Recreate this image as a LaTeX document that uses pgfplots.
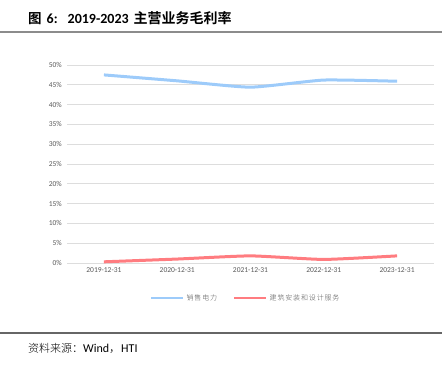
\documentclass[border=0pt]{standalone}
\usepackage{pgfplots}
\pgfplotsset{compat=1.18}
\usepackage{fontspec}
\setmainfont{Carlito}
\newfontfamily\cjk{Noto Sans CJK SC}
\newfontfamily\cjkb{Noto Sans CJK SC Bold}
\newfontfamily\cjkl[LetterSpace=12]{Noto Sans CJK SC Light}
\newfontfamily\cjkr{Noto Sans CJK SC Light}
\definecolor{blueline}{HTML}{9DCBFA}
\definecolor{redline}{HTML}{FF7C80}
\definecolor{gridc}{HTML}{DDDDDD}
\definecolor{tickc}{HTML}{595959}
\begin{document}
\begin{tikzpicture}
\path[use as bounding box] (0,0) rectangle (447bp,-366bp);
\node[anchor=west, inner sep=0pt] at (28bp,-18bp) {\fontsize{13.5bp}{15bp}\selectfont\cjkb 图\hspace{5bp}{\fontspec{Carlito}\fontsize{14bp}{15bp}\selectfont\bfseries 6:\hspace{10bp}2019-2023}\hspace{5bp}\fontsize{14bp}{15bp}\selectfont 主营业务毛利率};
\draw[line width=1.8bp, color=black!45] (0bp,-32bp) -- (442bp,-32bp);
\draw[line width=1.4bp, color=black!60] (0bp,-333bp) -- (442bp,-333bp);
\node[anchor=west, inner sep=0pt] at (28bp,-348bp) {\fontsize{11bp}{13bp}\selectfont\cjkr 资料来源：\fontspec{Carlito}\fontsize{12bp}{13bp}\selectfont Wind\cjkr，\fontspec{Carlito}HTI};
\begin{axis}[
  at={(67.3bp,-263bp)}, anchor=south west,
  scale only axis, width=366.4bp, height=198bp,
  xmin=-0.5, xmax=4.5, ymin=0, ymax=50,
  xtick={0,1,2,3,4},
  xticklabels={2019-12-31,2020-12-31,2021-12-31,2022-12-31,2023-12-31},
  ytick={0,5,...,50},
  yticklabel={\pgfmathprintnumber{\tick}\%},
  /pgf/number format/assume math mode=true,
  tick label style={font=\fontsize{7.5bp}{8bp}\selectfont, color=tickc},
  yticklabel style={xshift=-2bp},
  xticklabel style={yshift=-1bp},
  major tick length=0pt,
  axis line style={draw=none},
  ymajorgrids, grid style={gridc, line width=0.9bp},
  legend style={at={(0.487,-0.177)}, anchor=center, draw=none, fill=none,
    legend columns=2, font=\fontsize{7bp}{8bp}\selectfont\cjkl\color{tickc},
    /tikz/every even column/.append style={column sep=14bp}},
  legend image code/.code={\draw[#1, line width=2.6bp] (0bp,0bp) -- (32bp,0bp);},
  clip=false,
]
\draw[gridc, line width=0.9bp] (axis cs:-0.5,0) -- (axis cs:4.5,0);
\addplot[blueline, line width=3bp, smooth, tension=0.3] coordinates {(0,47.5) (1,46.0) (2,44.4) (3,46.2) (4,45.9)};
\addlegendentry{销售电力}
\addplot[redline, line width=3bp, smooth, tension=0.3] coordinates {(0,0.3) (1,1.0) (2,1.8) (3,0.9) (4,1.8)};
\addlegendentry{建筑安装和设计服务}
\end{axis}
\end{tikzpicture}
\end{document}
